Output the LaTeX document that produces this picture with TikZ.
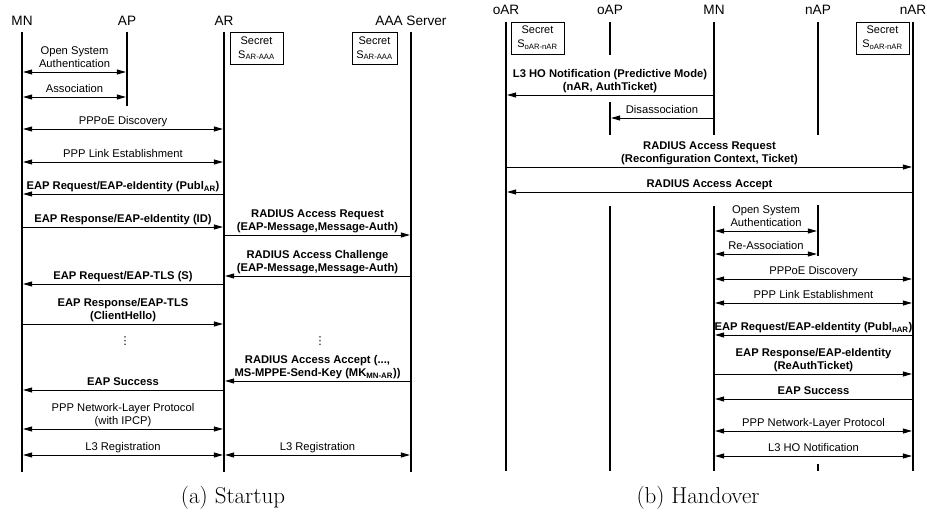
\documentclass[tikz,border=0pt]{standalone}
\usepackage{fontspec}
\newfontfamily\hv{Liberation Sans}
\newfontfamily\dv{DejaVu Sans}
\usetikzlibrary{arrows.meta}

\tikzset{
  life/.style={line width=2.2pt, line cap=butt},
  tip/.tip={Triangle[length=9pt,width=5pt]},
  msg/.style={line width=0.9pt, -tip, shorten >=1.1pt, shorten <=1.1pt},
  msgb/.style={line width=0.9pt, tip-tip, shorten >=1.1pt, shorten <=1.1pt},
  lbl/.style={font=\hv\fontsize{11.2}{13.5}\selectfont, align=center, inner sep=0pt,
              text depth=2.5pt, anchor=south, yshift=1.5pt},
  lblb/.style={lbl, font=\hv\bfseries\fontsize{11.2}{13.5}\selectfont},
  actor/.style={font=\hv\fontsize{13.6}{14}\selectfont, inner sep=0pt, anchor=base},
  secret/.style={draw, line width=0.7pt, minimum height=32pt, inner sep=0pt, align=center,
                 font=\hv\fontsize{11}{14}\selectfont},
  caption/.style={font=\fontsize{23}{27}\selectfont, inner sep=0pt, anchor=base},
  ellip/.style={font=\dv\fontsize{11}{11}\selectfont, inner sep=0pt, anchor=center},
}

\begin{document}
\begin{tikzpicture}[x=1pt,y=-1pt]
\useasboundingbox (0,0) rectangle (927,514);

% ---------------- (a) Startup ----------------
\coordinate (aMN)  at (22,0);
\coordinate (aAP)  at (127,0);
\coordinate (aAR)  at (224,0);
\coordinate (aAAA) at (411,0);

\node[actor] (tMN)  at (aMN  |- 0,25) {MN};
\node[actor] (tAP)  at (aAP  |- 0,25) {AP};
\node[actor] (tAR)  at (aAR  |- 0,25) {AR};
\node[actor] (tAAA) at (aAAA |- 0,25) {AAA Server};

\draw[life] (aMN  |- 0,32) -- (aMN  |- 0,472);
\draw[life] (aAP  |- 0,32) -- (aAP  |- 0,106);
\draw[life] (aAR  |- 0,32) -- (aAR  |- 0,472);
\draw[life] (aAAA |- 0,32) -- (aAAA |- 0,472);

\node[secret, minimum width=53pt] (secAR)  at (256.5,48) {Secret\\S\textsubscript{AR-AAA}};
\node[secret, minimum width=45pt] (secAAA) at (374.5,48) {Secret\\S\textsubscript{AR-AAA}};

\draw[msgb] (aMN |- 0,72)  -- (aAP |- 0,72)  node[lbl,midway] {Open System\\Authentication};
\draw[msgb] (aMN |- 0,97)  -- (aAP |- 0,97)  node[lbl,midway] {Association};
\draw[msgb] (aMN |- 0,129) -- (aAR |- 0,129) node[lbl,midway] {PPPoE Discovery};
\draw[msgb] (aMN |- 0,162) -- (aAR |- 0,162) node[lbl,midway] {PPP Link Establishment};
\draw[msg]  (aAR |- 0,194) -- (aMN |- 0,194) node[lblb,midway] {EAP Request/EAP-eIdentity (Publ\textsubscript{AR})};
\draw[msg]  (aMN |- 0,227) -- (aAR |- 0,227) node[lblb,midway] {EAP Response/EAP-eIdentity (ID)};
\draw[msg]  (aAR |- 0,235) -- (aAAA |- 0,235) node[lblb,midway] {RADIUS Access Request\\(EAP-Message,Message-Auth)};
\draw[msg]  (aAAA |- 0,276) -- (aAR |- 0,276) node[lblb,midway] {RADIUS Access Challenge\\(EAP-Message,Message-Auth)};
\draw[msg]  (aAR |- 0,284) -- (aMN |- 0,284) node[lblb,midway] {EAP Request/EAP-TLS (S)};
\draw[msg]  (aMN |- 0,324) -- (aAR |- 0,324) node[lblb,midway] {EAP Response/EAP-TLS\\(ClientHello)};

% elided exchanges
\node[ellip] (dotsA) at (125,341) {⋮};
\node[ellip] (dotsB) at (320,341) {⋮};

\draw[msg]  (aAAA |- 0,381) -- (aAR |- 0,381) node[lblb,midway] {RADIUS Access Accept (...,\\MS-MPPE-Send-Key (MK\textsubscript{MN-AR}))};
\draw[msg]  (aAR |- 0,390) -- (aMN |- 0,390) node[lblb,midway] {EAP Success};
\draw[msgb] (aMN |- 0,429) -- (aAR |- 0,429) node[lbl,midway] {PPP Network-Layer Protocol\\(with IPCP)};
\draw[msgb] (aMN |- 0,455) -- (aAR |- 0,455) node[lbl,midway] {L3 Registration};
\draw[msgb] (aAR |- 0,455) -- (aAAA |- 0,455) node[lbl,midway] {L3 Registration};

\node[caption] (capA) at (233,503) {(a) Startup};

% ---------------- (b) Handover ----------------
\coordinate (bOAR) at (506,0);
\coordinate (bOAP) at (610,0);
\coordinate (bMN)  at (714,0);
\coordinate (bNAP) at (818,0);
\coordinate (bNAR) at (913,0);

\node[actor] (tOAR) at (bOAR |- 0,14) {oAR};
\node[actor] (tOAP) at (bOAP |- 0,14) {oAP};
\node[actor] (tMNb) at (bMN  |- 0,14) {MN};
\node[actor] (tNAP) at (bNAP |- 0,14) {nAP};
\node[actor] (tNAR) at (bNAR |- 0,14) {nAR};

\draw[life] (bOAR |- 0,22)  -- (bOAR |- 0,471);
\draw[life] (bOAP |- 0,22)  -- (bOAP |- 0,55);
\draw[life] (bOAP |- 0,102) -- (bOAP |- 0,135);
\draw[life] (bOAP |- 0,206) -- (bOAP |- 0,471);
\draw[life] (bMN  |- 0,22)  -- (bMN  |- 0,135);
\draw[life] (bMN  |- 0,206) -- (bMN  |- 0,471);
\draw[life] (bNAP |- 0,22)  -- (bNAP |- 0,135);
\draw[life] (bNAP |- 0,205) -- (bNAP |- 0,256);
\draw[life] (bNAP |- 0,464) -- (bNAP |- 0,471);
\draw[life] (bNAR |- 0,22)  -- (bNAR |- 0,471);

\node[secret, minimum width=53pt] (secOAR) at (537.5,38) {Secret\\S\textsubscript{oAR-nAR}};
\node[secret, minimum width=53pt] (secNAR) at (882.5,38) {Secret\\S\textsubscript{oAR-nAR}};

\draw[msg]  (bMN |- 0,95)   -- (bOAR |- 0,95)  node[lblb,midway] {L3 HO Notification (Predictive Mode)\\(nAR, AuthTicket)};
\draw[msg]  (bMN |- 0,118)  -- (bOAP |- 0,118) node[lbl,midway] {Disassociation};
\draw[msg]  (bOAR |- 0,167) -- (bNAR |- 0,167) node[lblb,midway] {RADIUS Access Request\\(Reconfiguration Context, Ticket)};
\draw[msg]  (bNAR |- 0,192) -- (bOAR |- 0,192) node[lblb,midway] {RADIUS Access Accept};
\draw[msgb] (bMN |- 0,231)  -- (bNAP |- 0,231) node[lbl,midway] {Open System\\Authentication};
\draw[msgb] (bMN |- 0,254)  -- (bNAP |- 0,254) node[lbl,midway] {Re-Association};
\draw[msgb] (bMN |- 0,279)  -- (bNAR |- 0,279) node[lbl,midway] {PPPoE Discovery};
\draw[msgb] (bMN |- 0,303)  -- (bNAR |- 0,303) node[lbl,midway] {PPP Link Establishment};
\draw[msg]  (bNAR |- 0,335) -- (bMN |- 0,335)  node[lblb,midway] {EAP Request/EAP-eIdentity (Publ\textsubscript{nAR})};
\draw[msg]  (bMN |- 0,374)  -- (bNAR |- 0,374) node[lblb,midway] {EAP Response/EAP-eIdentity\\(ReAuthTicket)};
\draw[msg]  (bNAR |- 0,399) -- (bMN |- 0,399)  node[lblb,midway] {EAP Success};
\draw[msgb] (bMN |- 0,431)  -- (bNAR |- 0,431) node[lbl,midway] {PPP Network-Layer Protocol};
\draw[msgb] (bMN |- 0,456)  -- (bNAR |- 0,456) node[lbl,midway] {L3 HO Notification};

\node[caption] (capB) at (698,503) {(b) Handover};
\end{tikzpicture}
\end{document}
